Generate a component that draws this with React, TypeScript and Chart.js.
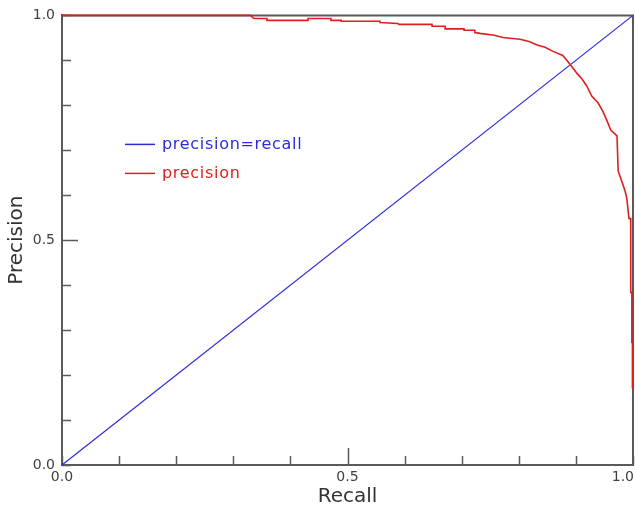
import React, { useEffect, useRef } from "react";
import { Chart, registerables } from "chart.js";

Chart.register(...registerables);

// ---- data ----
const diagonalRecall = [0, 1];
const diagonalPrecision = [0, 1];

const curveRecall = [
  0, 0.33, 0.336, 0.359, 0.359, 0.431, 0.431, 0.471, 0.471, 0.489, 0.489, 0.557,
  0.557, 0.588, 0.59, 0.648, 0.648, 0.671, 0.671, 0.704, 0.704, 0.723, 0.723,
  0.732, 0.757, 0.772, 0.802, 0.818, 0.832, 0.846, 0.86, 0.877, 0.89, 0.902,
  0.911, 0.919, 0.928, 0.939, 0.947, 0.954, 0.961, 0.972, 0.974, 0.98, 0.986,
  0.989, 0.993, 0.996, 0.996, 0.998, 0.998, 0.999, 0.999,
];
const curvePrecision = [
  1.0, 1.0, 0.993, 0.993, 0.989, 0.989, 0.993, 0.993, 0.989, 0.989, 0.987, 0.987,
  0.984, 0.982, 0.98, 0.98, 0.976, 0.976, 0.97, 0.97, 0.967, 0.967, 0.962,
  0.96, 0.956, 0.951, 0.947, 0.942, 0.934, 0.929, 0.92, 0.911, 0.891, 0.871,
  0.858, 0.843, 0.82, 0.805, 0.787, 0.767, 0.745, 0.732, 0.654, 0.632, 0.61,
  0.594, 0.548, 0.548, 0.384, 0.384, 0.273, 0.273, 0.17,
];

const seriesNames = ["precision=recall", "precision"];
const tickLabelValues = [0, 0.5, 1];
const xTitle = "Recall";
const yTitle = "Precision";

const BLUE = "#2b2bdc";
const RED = "#e01e1e";
const AXIS = "#5a5a5a";
const TEXT = "#404040";

const isLabelled = (v: number) => tickLabelValues.some((t) => Math.abs(t - v) < 1e-6);

const decorPlugin = {
  id: "decor",
  beforeDatasetsDraw(chart: any) {
    const { ctx, chartArea } = chart;
    const xs = chart.scales.x;
    const ys = chart.scales.y;
    ctx.save();
    // frame top and right
    ctx.strokeStyle = AXIS;
    ctx.lineWidth = 2;
    ctx.beginPath();
    ctx.moveTo(chartArea.left, chartArea.top);
    ctx.lineTo(chartArea.right, chartArea.top);
    ctx.lineTo(chartArea.right, chartArea.bottom);
    ctx.stroke();
    // inward tick marks
    ctx.lineWidth = 1.5;
    xs.ticks.forEach((t: any) => {
      const px = Math.round(xs.getPixelForValue(t.value)) + 0.5;
      const len = Math.abs(t.value - 0.5) < 1e-6 ? 17 : 9;
      ctx.beginPath();
      ctx.moveTo(px, chartArea.bottom);
      ctx.lineTo(px, chartArea.bottom - len);
      ctx.stroke();
    });
    ys.ticks.forEach((t: any) => {
      const py = Math.round(ys.getPixelForValue(t.value)) + 0.5;
      const len = Math.abs(t.value - 0.5) < 1e-6 ? 16 : 9;
      ctx.beginPath();
      ctx.moveTo(chartArea.left, py);
      ctx.lineTo(chartArea.left + len, py);
      ctx.stroke();
    });
    // x tick labels
    ctx.fillStyle = TEXT;
    ctx.font = "14px 'DejaVu Sans'";
    ctx.textBaseline = "middle";
    tickLabelValues.forEach((v) => {
      const px = xs.getPixelForValue(v);
      ctx.textAlign = v >= 1 ? "right" : "center";
      ctx.fillText(v.toFixed(1), v >= 1 ? px + 1 : px, chartArea.bottom + 12);
    });
    ctx.restore();
  },
  afterDatasetsDraw(chart: any) {
    const { ctx, chartArea } = chart;
    ctx.save();
    ctx.font = "16px 'DejaVu Sans'";
    (ctx as any).letterSpacing = "0.7px";
    ctx.textBaseline = "middle";
    ctx.textAlign = "left";
    chart.data.datasets.forEach((ds: any, i: number) => {
      const y = chartArea.top + 129 + i * 29;
      const x0 = chartArea.left + 63;
      ctx.strokeStyle = ds.borderColor;
      ctx.lineWidth = 1.5;
      ctx.beginPath();
      ctx.moveTo(x0, y);
      ctx.lineTo(x0 + 30, y);
      ctx.stroke();
      ctx.fillStyle = ds.borderColor;
      ctx.fillText(ds.label, x0 + 37, y);
    });
    ctx.restore();
  },
};

export default function App() {
  const ref = useRef<HTMLCanvasElement>(null);
  useEffect(() => {
    if (!ref.current) return;
    const chart = new Chart(ref.current, {
      type: "line",
      data: {
        datasets: [
          {
            label: seriesNames[0],
            data: diagonalRecall.map((r, i) => ({ x: r, y: diagonalPrecision[i] })),
            borderColor: BLUE,
            borderWidth: 1.2,
            pointRadius: 0,
            order: 2,
            clip: false as any,
          },
          {
            label: seriesNames[1],
            data: curveRecall.map((r, i) => ({ x: r, y: curvePrecision[i] })),
            borderColor: RED,
            borderWidth: 1.6,
            pointRadius: 0,
            order: 1,
            clip: false as any,
          },
        ],
      },
      options: {
        animation: false,
        responsive: false,
        layout: { padding: { top: 14, right: 2, left: 0, bottom: 0 } },
        plugins: { legend: { display: false }, tooltip: { enabled: false } },
        scales: {
          x: {
            type: "linear",
            min: 0,
            max: 1,
            ticks: { stepSize: 0.1, display: false },
            grid: { display: false, drawTicks: false },
            border: { display: true, color: AXIS, width: 2 },
            title: {
              display: true,
              text: xTitle,
              color: "#333",
              font: { family: "'DejaVu Sans'", size: 20 },
              padding: { top: 0, bottom: 1 },
            },
            afterFit: (s: any) => {
              s.height = 45;
            },
          },
          y: {
            type: "linear",
            min: 0,
            max: 1,
            ticks: {
              stepSize: 0.1,
              autoSkip: false,
              color: TEXT,
              padding: 7,
              font: { family: "'DejaVu Sans'", size: 14 },
              callback: (v: any) => (isLabelled(Number(v)) ? Number(v).toFixed(1) : ""),
            },
            grid: { display: false, drawTicks: false },
            border: { display: true, color: AXIS, width: 2 },
            title: {
              display: true,
              text: yTitle,
              color: "#333",
              font: { family: "'DejaVu Sans'", size: 20 },
              padding: { top: 5, bottom: 0 },
            },
            afterFit: (s: any) => {
              s.width = 62;
            },
          },
        },
      },
      plugins: [decorPlugin],
    });
    return () => chart.destroy();
  }, []);
  return (
    <div style={{ position: "absolute", left: 0, top: 0, width: 635, height: 510, background: "#fff" }}>
      <canvas ref={ref} width={635} height={510} style={{ display: "block" }} />
    </div>
  );
}
